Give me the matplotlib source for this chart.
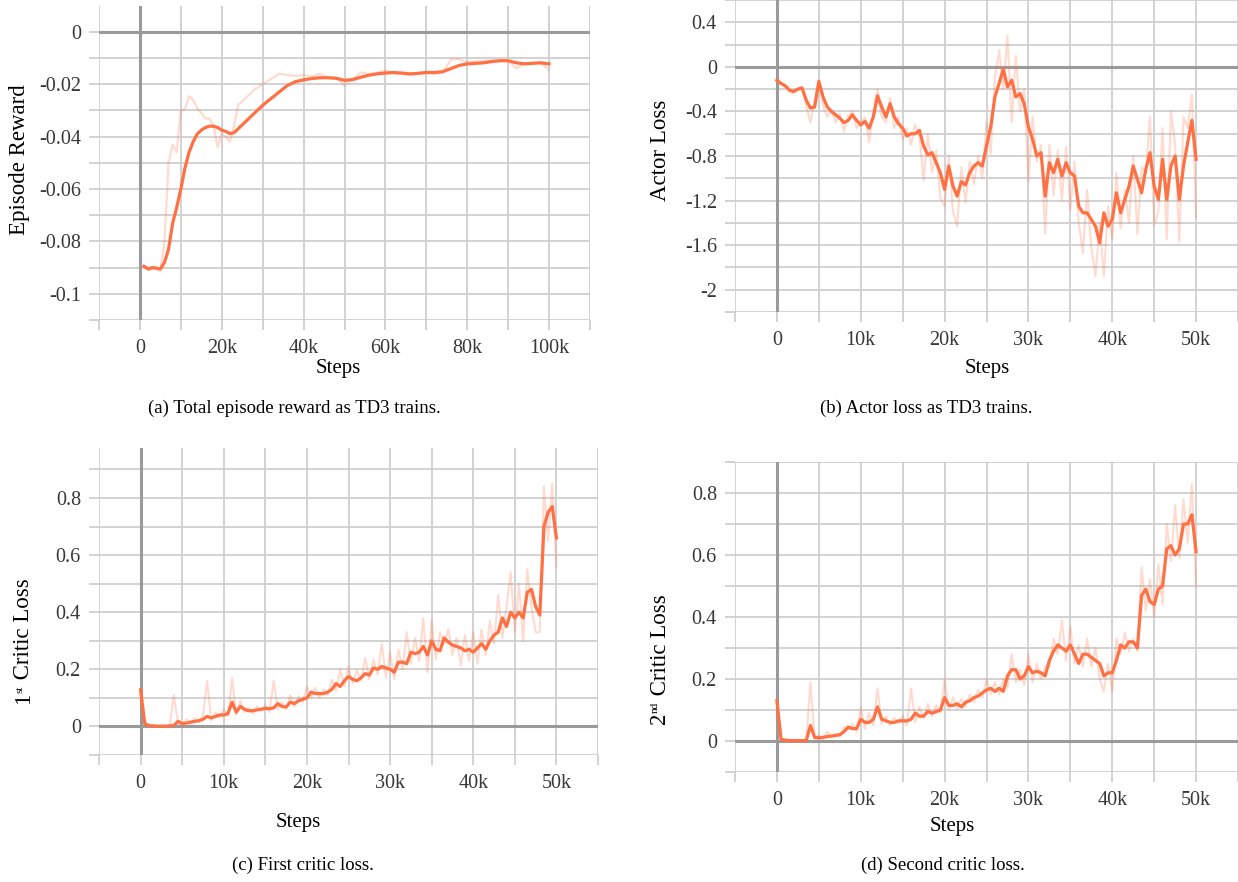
import numpy as np
import matplotlib
matplotlib.use("Agg")
import matplotlib.pyplot as plt
from matplotlib.ticker import MultipleLocator, FuncFormatter

plt.rcParams['font.family'] = ['Liberation Serif', 'DejaVu Serif']

# (a) episode reward, steps in thousands
steps_a = list(range(1, 25)) + list(range(26, 101, 2))
reward_smooth = [-0.0895, -0.0905, -0.0900, -0.0902, -0.0905, -0.0880, -0.0830, -0.0730, -0.0670, -0.0600,
                 -0.0520, -0.0460, -0.0420, -0.0390, -0.0375, -0.0365, -0.0360, -0.0360, -0.0365, -0.0375,
                 -0.0380, -0.0388, -0.0385, -0.0370,
                 -0.0340, -0.0310, -0.0280, -0.0255, -0.0230, -0.0205, -0.0190, -0.0183, -0.0178, -0.0175,
                 -0.0175, -0.0177, -0.0185, -0.0182, -0.0173, -0.0165, -0.0160, -0.0157, -0.0155, -0.0157,
                 -0.0160, -0.0158, -0.0155, -0.0155, -0.0152, -0.0140, -0.0128, -0.0122, -0.0120, -0.0118,
                 -0.0113, -0.0110, -0.0110, -0.0118, -0.0122, -0.0120, -0.0118, -0.0122]
reward_raw = [-0.0895, -0.0910, -0.0905, -0.0905, -0.0915, -0.0800, -0.0500, -0.0430, -0.0460, -0.0300,
              -0.0295, -0.0245, -0.0260, -0.0290, -0.0310, -0.0330, -0.0330, -0.0360, -0.0440, -0.0390,
              -0.0400, -0.0420, -0.0360, -0.0280,
              -0.0250, -0.0220, -0.0200, -0.0180, -0.0160, -0.0165, -0.0168, -0.0165, -0.0170, -0.0160,
              -0.0175, -0.0175, -0.0205, -0.0180, -0.0155, -0.0160, -0.0155, -0.0148, -0.0158, -0.0160,
              -0.0165, -0.0160, -0.0150, -0.0160, -0.0155, -0.0105, -0.0105, -0.0115, -0.0112, -0.0110,
              -0.0110, -0.0108, -0.0110, -0.0140, -0.0122, -0.0118, -0.0118, -0.0145]

# (b), (c), (d): one value every 0.5k steps from 0 to 50k
actor_smooth = [-0.12, -0.15, -0.17, -0.21, -0.22, -0.20, -0.19, -0.30, -0.37, -0.36,
                -0.13, -0.27, -0.36, -0.40, -0.43, -0.46, -0.50, -0.48, -0.43, -0.48,
                -0.52, -0.49, -0.55, -0.45, -0.26, -0.36, -0.45, -0.33, -0.45, -0.51,
                -0.55, -0.62, -0.60, -0.60, -0.57, -0.71, -0.79, -0.77, -0.86, -0.95,
                -1.10, -0.89, -1.07, -1.16, -1.03, -1.06, -0.95, -0.89, -0.86, -0.89,
                -0.71, -0.54, -0.27, -0.15, -0.02, -0.18, -0.12, -0.27, -0.24, -0.33,
                -0.54, -0.65, -0.80, -0.77, -1.16, -0.86, -0.95, -0.83, -0.98, -0.86,
                -0.95, -0.98, -1.25, -1.31, -1.31, -1.37, -1.43, -1.58, -1.31, -1.43,
                -1.37, -1.13, -1.31, -1.19, -1.07, -0.89, -1.01, -1.13, -0.92, -0.77,
                -1.07, -1.19, -0.83, -1.19, -0.89, -0.80, -1.19, -0.89, -0.68, -0.48,
                -0.83]
actor_raw = [-0.12, -0.14, -0.18, -0.22, -0.24, -0.19, -0.18, -0.35, -0.50, -0.30,
             -0.12, -0.35, -0.45, -0.38, -0.50, -0.42, -0.58, -0.44, -0.40, -0.55,
             -0.50, -0.45, -0.68, -0.40, -0.20, -0.45, -0.50, -0.28, -0.55, -0.45,
             -0.65, -0.55, -0.70, -0.52, -0.62, -1.02, -0.60, -0.95, -0.75, -1.18,
             -1.25, -0.80, -1.30, -1.43, -0.90, -1.22, -0.85, -1.05, -0.80, -1.00,
             -0.50, -0.78, -0.10, 0.15, -0.20, 0.28, -0.50, 0.10, -0.40, -0.20,
             -1.03, -0.45, -0.85, -0.70, -1.50, -0.70, -1.15, -0.75, -1.20, -0.72,
             -1.28, -0.85, -1.40, -1.67, -1.10, -1.62, -1.88, -1.40, -1.88, -1.25,
             -1.55, -0.95, -1.45, -1.10, -1.40, -0.80, -1.50, -0.90, -0.95, -0.45,
             -1.42, -1.30, -0.55, -1.55, -0.40, -0.70, -1.57, -0.45, -0.55, -0.25,
             -1.35]

critic1_smooth = [0.128, 0.010, 0.003, 0.002, 0.001, 0.001, 0.001, 0.002, 0.003, 0.018,
                  0.010, 0.012, 0.015, 0.018, 0.020, 0.025, 0.035, 0.030, 0.035, 0.040,
                  0.040, 0.045, 0.085, 0.050, 0.070, 0.060, 0.055, 0.055, 0.058, 0.060,
                  0.063, 0.062, 0.065, 0.080, 0.070, 0.068, 0.085, 0.080, 0.090, 0.095,
                  0.100, 0.120, 0.115, 0.115, 0.115, 0.120, 0.130, 0.150, 0.140, 0.160,
                  0.175, 0.165, 0.160, 0.170, 0.185, 0.180, 0.205, 0.200, 0.210, 0.205,
                  0.200, 0.190, 0.225, 0.225, 0.220, 0.260, 0.255, 0.260, 0.280, 0.250,
                  0.300, 0.270, 0.265, 0.310, 0.295, 0.285, 0.280, 0.275, 0.265, 0.270,
                  0.260, 0.275, 0.290, 0.270, 0.300, 0.320, 0.330, 0.380, 0.350, 0.400,
                  0.380, 0.400, 0.380, 0.470, 0.480, 0.420, 0.390, 0.700, 0.750, 0.770,
                  0.660]
critic1_raw = [0.128, 0.005, 0.002, 0.001, 0.001, 0.001, 0.001, 0.002, 0.110, 0.010,
               0.005, 0.025, 0.010, 0.030, 0.015, 0.040, 0.160, 0.020, 0.050, 0.030,
               0.060, 0.035, 0.170, 0.040, 0.090, 0.050, 0.065, 0.045, 0.070, 0.055,
               0.075, 0.050, 0.160, 0.060, 0.085, 0.060, 0.110, 0.070, 0.105, 0.085,
               0.140, 0.100, 0.135, 0.100, 0.130, 0.110, 0.165, 0.125, 0.200, 0.140,
               0.210, 0.150, 0.195, 0.160, 0.240, 0.165, 0.235, 0.180, 0.290, 0.170,
               0.260, 0.165, 0.270, 0.200, 0.330, 0.220, 0.310, 0.230, 0.380, 0.190,
               0.370, 0.235, 0.330, 0.290, 0.340, 0.250, 0.310, 0.215, 0.320, 0.230,
               0.330, 0.220, 0.340, 0.250, 0.370, 0.290, 0.460, 0.310, 0.420, 0.540,
               0.330, 0.500, 0.300, 0.550, 0.420, 0.330, 0.330, 0.840, 0.650, 0.850,
               0.560]

critic2_smooth = [0.130, 0.005, 0.003, 0.001, 0.001, 0.001, 0.001, 0.002, 0.050, 0.012,
                  0.010, 0.012, 0.014, 0.016, 0.018, 0.020, 0.030, 0.045, 0.040, 0.040,
                  0.070, 0.060, 0.060, 0.070, 0.110, 0.070, 0.065, 0.060, 0.060, 0.065,
                  0.065, 0.065, 0.070, 0.090, 0.080, 0.080, 0.095, 0.090, 0.095, 0.100,
                  0.140, 0.115, 0.115, 0.120, 0.110, 0.125, 0.130, 0.140, 0.145, 0.155,
                  0.165, 0.170, 0.160, 0.170, 0.160, 0.210, 0.230, 0.230, 0.200, 0.210,
                  0.240, 0.220, 0.225, 0.220, 0.210, 0.260, 0.290, 0.310, 0.300, 0.290,
                  0.310, 0.280, 0.250, 0.280, 0.280, 0.270, 0.260, 0.250, 0.210, 0.220,
                  0.220, 0.260, 0.310, 0.300, 0.320, 0.320, 0.300, 0.470, 0.490, 0.450,
                  0.440, 0.490, 0.500, 0.620, 0.630, 0.600, 0.620, 0.700, 0.700, 0.730,
                  0.610]
critic2_raw = [0.130, 0.003, 0.002, 0.001, 0.001, 0.001, 0.001, 0.002, 0.190, 0.005,
               0.020, 0.005, 0.030, 0.010, 0.025, 0.015, 0.045, 0.035, 0.055, 0.030,
               0.110, 0.040, 0.090, 0.050, 0.170, 0.055, 0.080, 0.050, 0.075, 0.055,
               0.080, 0.050, 0.170, 0.060, 0.110, 0.075, 0.120, 0.080, 0.115, 0.090,
               0.200, 0.100, 0.140, 0.105, 0.135, 0.110, 0.150, 0.125, 0.165, 0.140,
               0.200, 0.150, 0.190, 0.150, 0.200, 0.170, 0.280, 0.190, 0.230, 0.180,
               0.280, 0.190, 0.250, 0.200, 0.240, 0.240, 0.330, 0.280, 0.390, 0.260,
               0.370, 0.250, 0.310, 0.240, 0.330, 0.240, 0.300, 0.200, 0.160, 0.250,
               0.160, 0.330, 0.280, 0.350, 0.290, 0.330, 0.290, 0.560, 0.420, 0.520,
               0.400, 0.570, 0.440, 0.700, 0.580, 0.760, 0.590, 0.780, 0.640, 0.830,
               0.500]

LINE = '#ff7043'
GRID = '#cfcfcf'
ZERO = '#9a9a9a'
TICKTXT = '#383838'


def fmt_x(v, pos):
    if abs(v) < 1e-9:
        return '0'
    return f'{v / 1000:g}k'


def fmt_y(v, pos):
    if abs(v) < 1e-12:
        return '0'
    return f'{v:g}'


def style(ax, xlim, ylim, xmaj, xmin, ymaj, ymin):
    ax.set_xlim(*xlim)
    ax.set_ylim(*ylim)
    ax.xaxis.set_major_locator(MultipleLocator(xmaj))
    ax.xaxis.set_minor_locator(MultipleLocator(xmin))
    ax.yaxis.set_major_locator(MultipleLocator(ymaj))
    ax.yaxis.set_minor_locator(MultipleLocator(ymin))
    ax.xaxis.set_major_formatter(FuncFormatter(fmt_x))
    ax.yaxis.set_major_formatter(FuncFormatter(fmt_y))
    ax.grid(True, which='both', color=GRID, lw=1.3)
    ax.set_axisbelow(True)
    for s in ax.spines.values():
        s.set_visible(False)
    ax.tick_params(which='both', length=7, width=1.3, color=GRID,
                   labelsize=14.5, labelcolor=TICKTXT)
    ax.tick_params(axis='x', which='major', pad=7)
    ax.tick_params(axis='y', which='major', pad=6)
    ax.axhline(0, color=ZERO, lw=2.2, zorder=1.5)
    ax.axvline(0, color=ZERO, lw=2.2, zorder=1.5)


fig = plt.figure(figsize=(12.38, 8.82), dpi=100)
W, H = 1238.0, 882.0


def box(l, t, r, b):
    return [l / W, 1 - b / H, (r - l) / W, (b - t) / H]


ax_a = fig.add_axes(box(99, 6, 590, 320))
ax_b = fig.add_axes(box(735, 0, 1238, 312))
ax_c = fig.add_axes(box(99, 448, 598, 755))
ax_d = fig.add_axes(box(735, 462, 1238, 772))

xa = np.array(steps_a) * 1000
ax_a.plot(xa, reward_raw, color=LINE, alpha=0.25, lw=1.6, zorder=3)
ax_a.plot(xa, reward_smooth, color=LINE, lw=2.3, zorder=4)
style(ax_a, (-10000, 110000), (-0.11, 0.0099), 20000, 10000, 0.02, 0.01)

xs = np.arange(0, 50001, 500)
for ax, raw, smooth, ylim, ymaj, ymin in [
        (ax_b, actor_raw, actor_smooth, (-2.2, 0.6), 0.4, 0.2),
        (ax_c, critic1_raw, critic1_smooth, (-0.1, 0.975), 0.2, 0.1),
        (ax_d, critic2_raw, critic2_smooth, (-0.1, 0.9), 0.2, 0.1)]:
    ax.plot(xs, raw, color=LINE, alpha=0.25, lw=1.5, zorder=3)
    ax.plot(xs, smooth, color=LINE, lw=2.3, zorder=4)
    style(ax, (-5000, 55000), ylim, 10000, 5000, ymaj, ymin)

# axis labels and captions
lab = dict(ha='center', va='center', fontsize=15)
fig.text(338 / W, 1 - 369 / H, 'Steps', **lab)
fig.text(987 / W, 1 - 369 / H, 'Steps', **lab)
fig.text(298 / W, 1 - 822 / H, 'Steps', **lab)
fig.text(952 / W, 1 - 827 / H, 'Steps', **lab)

ylab = dict(ha='center', va='center', rotation=90, fontsize=16.5)
fig.text(20 / W, 1 - 160 / H, 'Episode Reward', **ylab)
fig.text(660 / W, 1 - 150 / H, 'Actor Loss', **ylab)


# ordinal labels with a small superscript, built from three rotated pieces
def ordinal_label(ax, x, y_bottom, num, sup, rest):
    t1 = ax.text(x / W, 1 - y_bottom / H, num, transform=fig.transFigure,
                 rotation=90, ha='center', va='bottom', fontsize=16.5)
    t2 = ax.annotate(sup, xy=(0.08, 1.0), xycoords=t1, rotation=90,
                     ha='left', va='bottom', fontsize=8, annotation_clip=False)
    ax.annotate(rest, xy=(0.5, 1.0), xycoords=(t1, t2), rotation=90,
                ha='center', va='bottom', fontsize=16.5, annotation_clip=False)


ordinal_label(ax_c, 24, 704, '1', 'st', ' Critic Loss')
ordinal_label(ax_d, 660, 724, '2', 'nd', ' Critic Loss')

cap = dict(ha='center', va='center', fontsize=13.5)
fig.text(294 / W, 1 - 408 / H, '(a) Total episode reward as TD3 trains.', **cap)
fig.text(926 / W, 1 - 408 / H, '(b) Actor loss as TD3 trains.', **cap)
fig.text(303 / W, 1 - 865 / H, '(c) First critic loss.', **cap)
fig.text(943 / W, 1 - 865 / H, '(d) Second critic loss.', **cap)

fig.savefig('out.png', dpi=100)
